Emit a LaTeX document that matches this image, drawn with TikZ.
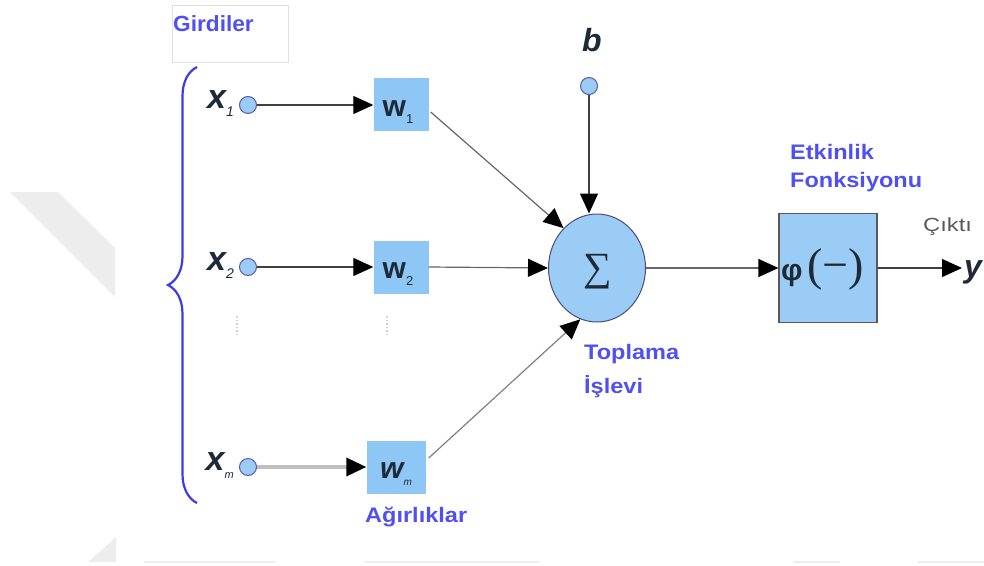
\documentclass[tikz,border=0pt]{standalone}
\usepackage{fontspec}
\usepackage{graphicx}
\setmainfont{Liberation Sans}
\newfontfamily\serifsym{Liberation Serif}
\usetikzlibrary{arrows.meta,shapes.geometric,decorations.pathreplacing,calc}

\definecolor{wfill}{HTML}{8EC6F6}
\definecolor{nfill}{HTML}{9ACCF6}
\definecolor{lblue}{HTML}{5050F2}
\definecolor{bracec}{HTML}{3C3CE6}
\definecolor{ink}{HTML}{1E2A36}
\definecolor{wm}{HTML}{EDEDED}

\newcommand\wide[2][1.12]{\scalebox{#1}[1]{#2}}

\tikzset{
  lbl/.style={text=lblue, font=\fontsize{21}{23}\selectfont\bfseries, inner sep=0pt, anchor=west},
  inp/.style={circle, fill=nfill, draw=gray!70!blue, line width=1pt, minimum size=17pt, inner sep=0pt},
  wbox/.style={rectangle, fill=wfill, minimum width=55pt, minimum height=53pt, inner sep=0pt},
  sym/.style={inner sep=0pt, text=ink},
  conn/.style={draw=black!75, line width=1.2pt},
  arr/.style={conn, -{Triangle[length=20pt,width=18pt,color=black]}},
}

\begin{document}
\begin{tikzpicture}[x=1pt,y=-1pt]
\useasboundingbox (0,0) rectangle (984,565);

% faint background marks
\fill[wm] (10,192) -- (58,192) -- (115,248) -- (115,297) -- cycle;
\fill[wm] (88,562) -- (116,537) -- (116,562) -- cycle;
\draw[wm, line width=1.5pt] (144,562) -- (276,562) (364,562) -- (540,562)
  (793,562) -- (840,562) (918,562) -- (984,562);

% title box for the inputs
\node[draw=black!12, line width=1pt, minimum width=116pt, minimum height=57pt, anchor=north west, inner sep=0pt] (gbox) at (172,5) {};
\node[lbl, font=\fontsize{22}{24}\selectfont\bfseries] (girdiler) at (173,24) {\wide[1.03]{Girdiler}};

% brace grouping the inputs
\draw[bracec, line width=2.2pt, decorate, decoration={brace, amplitude=29pt, aspect=0.5}]
  (197,503) -- (197,67);

% input nodes
\node[inp] (x1) at (248,105) {};
\node[inp] (x2) at (248,267) {};
\node[inp] (xm) at (248,467) {};
\node[inp] (bc) at (589,86) {};

% input labels
\node[sym, anchor=east] (x1l) at (234,104) {\fontsize{34}{34}\selectfont\itshape\bfseries x\raisebox{-8pt}{\fontsize{14}{14}\selectfont\mdseries 1}};
\node[sym, anchor=east] (x2l) at (234,266) {\fontsize{34}{34}\selectfont\itshape\bfseries x\raisebox{-8pt}{\fontsize{14}{14}\selectfont\mdseries 2}};
\node[sym, anchor=east] (xml) at (234,466) {\fontsize{34}{34}\selectfont\itshape\bfseries x\raisebox{-8pt}{\fontsize{11}{11}\selectfont\mdseries m}};
\node[sym] (bl) at (592,40) {\fontsize{32}{32}\selectfont\itshape\bfseries b};

% weights
\node[wbox] (w1) at (401,104) {};
\node[wbox] (w2) at (401,267) {};
\node[wbox, minimum width=59pt] (wmb) at (396,467) {};
\node[sym] at (398,112) {\fontsize{30}{30}\selectfont\bfseries w\raisebox{-7pt}{\fontsize{13}{13}\selectfont\mdseries 1}};
\node[sym] at (398,274) {\fontsize{30}{30}\selectfont\bfseries w\raisebox{-7pt}{\fontsize{13}{13}\selectfont\mdseries 2}};
\node[sym] at (396,474) {\fontsize{30}{30}\selectfont\itshape\bfseries w\raisebox{-7pt}{\fontsize{10}{10}\selectfont\mdseries m}};

% vertical ellipsis marks
\draw[black!18, line width=1.5pt, dotted] (237,316) -- (237,336);
\draw[black!18, line width=1.5pt, dotted] (387,316) -- (387,334);

% summing junction
\node[ellipse, fill=nfill, draw=black!60!blue!40!gray, line width=1pt, minimum width=97pt, minimum height=108pt, inner sep=0pt] (sig) at (597,268) {};
\node[sym] at (598,272) {\serifsym\fontsize{40}{40}\selectfont ∑};

% activation function
\node[rectangle, fill=nfill, draw=black!65, line width=1.2pt, minimum width=98pt, minimum height=109pt, inner sep=0pt] (phi) at (828,268) {};
\node[sym, anchor=west] at (781,269) {\fontsize{30}{30}\selectfont\bfseries φ\hspace{5pt}{\serifsym\mdseries\fontsize{46}{46}\selectfont(−)}};

\coordinate (out) at (962,268);

% connectors
\draw[conn, draw=black!25, line width=3.5pt] (xm) -- ($(wmb.west |- xm)+(-18,0)$);
\draw[arr] (x1) -- (w1.west |- x1);
\draw[arr] (x2) -- (w2.west |- x2);
\draw[arr, draw=black!25, line width=3.5pt] (xm) -- (wmb.west |- xm);
\draw[arr, draw=black!60] ($(w1.east)+(2,8)$) -- (sig.130);
\draw[arr, draw=black!60] (w2.east) -- (sig.west);
\draw[arr, draw=black!50] ($(wmb.east)+(3,-9)$) -- (sig.252);
\draw[arr] (bc) -- (bc |- sig.north);
\draw[arr, draw=black!60] (sig.east) -- (phi.west);
\draw[arr] (phi.east) -- (out);

% output
\node[sym, anchor=west] (yl) at (964,272) {\fontsize{32}{32}\selectfont\itshape\bfseries y};
\node[sym, anchor=west, text=black!65] (cikti) at (923,227) {\fontsize{19}{21}\selectfont\wide[1.25]{Çıktı}};

% captions
\node[lbl] (agir) at (365,517) {\wide{Ağırlıklar}};
\node[lbl] (topl) at (584,354) {\wide{Toplama}};
\node[lbl] (isl) at (584,387) {\wide{İşlevi}};
\node[lbl] (etk) at (790,152) {\wide{Etkinlik}};
\node[lbl] (fonk) at (790,182) {\wide{Fonksiyonu}};
\end{tikzpicture}
\end{document}
